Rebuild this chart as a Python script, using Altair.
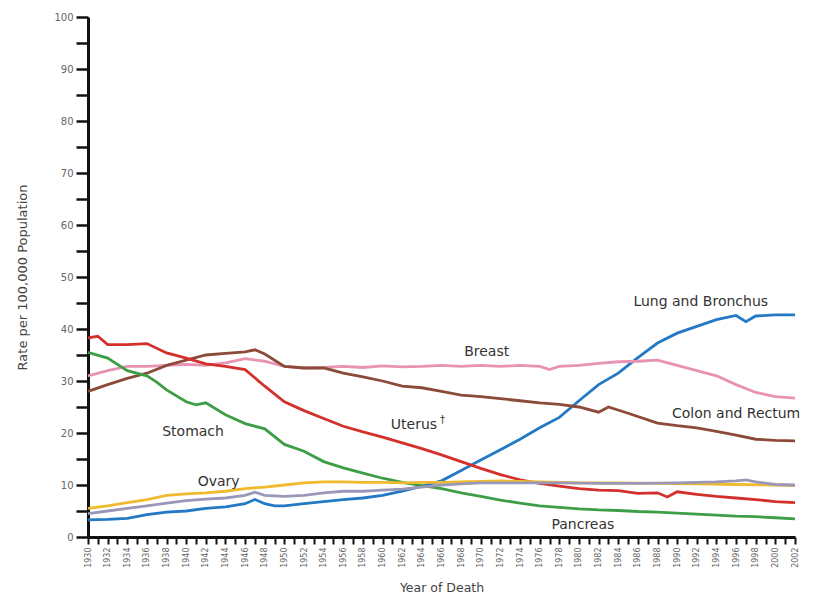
import altair as alt
import pandas as pd

# Female cancer death rates per 100,000, by site, 1930-2002 (year, rate) pairs
lung = [(1930, 3.3), (1932, 3.4), (1934, 3.6), (1936, 4.3), (1938, 4.8), (1940, 5.0),
        (1942, 5.5), (1944, 5.8), (1946, 6.4), (1947, 7.2), (1948, 6.4), (1949, 6.0),
        (1950, 6.0), (1952, 6.4), (1954, 6.8), (1956, 7.2), (1958, 7.5), (1960, 8.0),
        (1962, 8.8), (1964, 9.8), (1966, 10.8), (1968, 12.8), (1970, 14.8), (1972, 16.8),
        (1974, 18.8), (1976, 21.0), (1978, 23.0), (1980, 26.2), (1982, 29.3), (1984, 31.5),
        (1986, 34.5), (1988, 37.3), (1990, 39.2), (1992, 40.5), (1994, 41.8), (1996, 42.6),
        (1997, 41.4), (1998, 42.5), (2000, 42.7), (2002, 42.7)]

breast = [(1930, 31.0), (1932, 32.0), (1934, 32.8), (1936, 32.8), (1938, 33.0), (1940, 33.2),
          (1942, 33.0), (1944, 33.5), (1946, 34.3), (1948, 33.8), (1950, 32.8), (1952, 32.5),
          (1954, 32.6), (1956, 32.8), (1958, 32.6), (1960, 32.9), (1962, 32.7), (1964, 32.8),
          (1966, 33.0), (1968, 32.8), (1970, 33.0), (1972, 32.8), (1974, 33.0), (1976, 32.8),
          (1977, 32.2), (1978, 32.8), (1980, 33.0), (1982, 33.4), (1984, 33.7), (1986, 33.8),
          (1988, 34.0), (1990, 33.0), (1992, 32.0), (1994, 31.0), (1996, 29.3), (1998, 27.8),
          (2000, 27.0), (2002, 26.7)]

colon = [(1930, 28.0), (1932, 29.3), (1934, 30.5), (1936, 31.5), (1938, 33.0), (1940, 34.0),
         (1942, 35.0), (1944, 35.3), (1946, 35.6), (1947, 36.0), (1948, 35.2), (1950, 32.8),
         (1952, 32.5), (1954, 32.5), (1956, 31.5), (1958, 30.8), (1960, 30.0), (1962, 29.0),
         (1964, 28.7), (1966, 28.0), (1968, 27.3), (1970, 27.0), (1972, 26.6), (1974, 26.2),
         (1976, 25.8), (1978, 25.5), (1980, 25.0), (1982, 24.0), (1983, 25.0), (1985, 23.8),
         (1988, 21.9), (1990, 21.4), (1992, 21.0), (1994, 20.3), (1996, 19.6), (1998, 18.8),
         (2000, 18.6), (2002, 18.5)]

uterus = [(1930, 38.3), (1931, 38.6), (1932, 37.0), (1934, 37.0), (1936, 37.2), (1938, 35.4),
          (1940, 34.4), (1942, 33.3), (1944, 32.8), (1946, 32.2), (1948, 29.0), (1950, 26.0),
          (1952, 24.3), (1954, 22.8), (1956, 21.3), (1958, 20.2), (1960, 19.2), (1962, 18.1),
          (1964, 17.0), (1966, 15.8), (1968, 14.5), (1970, 13.2), (1972, 12.0), (1974, 11.0),
          (1976, 10.3), (1978, 9.8), (1980, 9.3), (1982, 9.0), (1984, 8.9), (1986, 8.4),
          (1988, 8.5), (1989, 7.7), (1990, 8.7), (1992, 8.2), (1994, 7.8), (1996, 7.5),
          (1998, 7.2), (2000, 6.8), (2002, 6.6)]

stomach = [(1930, 35.5), (1932, 34.4), (1934, 32.0), (1936, 31.0), (1937, 29.8), (1938, 28.3),
           (1940, 26.0), (1941, 25.4), (1942, 25.8), (1944, 23.5), (1946, 21.8), (1948, 20.8),
           (1950, 17.8), (1952, 16.5), (1954, 14.5), (1956, 13.3), (1958, 12.3), (1960, 11.3),
           (1962, 10.5), (1964, 9.9), (1966, 9.3), (1968, 8.5), (1970, 7.8), (1972, 7.1),
           (1974, 6.5), (1976, 6.0), (1978, 5.7), (1980, 5.4), (1982, 5.2), (1984, 5.1),
           (1986, 4.9), (1988, 4.8), (1990, 4.6), (1992, 4.4), (1994, 4.2), (1996, 4.0),
           (1998, 3.9), (2000, 3.7), (2002, 3.5)]

ovary = [(1930, 5.5), (1932, 6.0), (1934, 6.6), (1936, 7.2), (1938, 8.0), (1940, 8.3),
         (1942, 8.5), (1944, 8.8), (1946, 9.3), (1948, 9.6), (1950, 10.0), (1952, 10.4),
         (1954, 10.6), (1956, 10.6), (1958, 10.5), (1960, 10.5), (1962, 10.4), (1964, 10.5),
         (1966, 10.5), (1968, 10.6), (1970, 10.7), (1972, 10.8), (1974, 10.7), (1976, 10.6),
         (1978, 10.5), (1980, 10.4), (1984, 10.4), (1988, 10.3), (1992, 10.2), (1996, 10.1),
         (2000, 10.0), (2002, 9.9)]

pancreas = [(1930, 4.5), (1932, 5.0), (1934, 5.5), (1936, 6.0), (1938, 6.5), (1940, 7.0),
            (1942, 7.3), (1944, 7.5), (1946, 8.0), (1947, 8.6), (1948, 8.0), (1950, 7.8),
            (1952, 8.0), (1954, 8.5), (1956, 8.8), (1958, 8.8), (1960, 9.0), (1962, 9.2),
            (1964, 9.6), (1966, 10.0), (1968, 10.2), (1970, 10.4), (1974, 10.4), (1978, 10.4),
            (1982, 10.3), (1986, 10.3), (1990, 10.4), (1994, 10.6), (1996, 10.8), (1997, 11.0),
            (1998, 10.6), (2000, 10.1), (2002, 10.0)]

sites = ["Lung and Bronchus", "Breast", "Colon and Rectum", "Uterus", "Stomach",
         "Ovary", "Pancreas"]
series = [lung, breast, colon, uterus, stomach, ovary, pancreas]
colors = ["#2479c4", "#e892b4", "#8c4a38", "#d3302c", "#3e9e48", "#efba2e", "#9a98b8"]

# Line labels placed next to their curves
label_text = ["Lung and Bronchus", "Breast", "Colon and Rectum", "Uterus", "Stomach",
              "Ovary", "Pancreas"]
label_year = [1992.4, 1970.6, 1996.0, 1963.2, 1940.7, 1943.3, 1980.4]
label_rate = [45.2, 35.6, 23.7, 21.6, 20.2, 10.6, 2.3]
# superscript dagger after "Uterus"
dagger_text = ["\u2020"]
dagger_year = [1966.1]
dagger_rate = [22.5]

rows = []
for site, pts in zip(sites, series):
    for yr, val in pts:
        rows.append({"site": site, "year": yr, "rate": val})
df = pd.DataFrame(rows)
labels = pd.DataFrame({"text": label_text, "year": label_year, "rate": label_rate})
dagger = pd.DataFrame({"text": dagger_text, "year": dagger_year, "rate": dagger_rate})

year_ticks = list(range(1930, 2003))
rate_ticks = list(range(0, 101, 5))

x_scale = alt.Scale(domain=[1930, 2002], nice=False, zero=False)
y_scale = alt.Scale(domain=[0, 100], nice=False)

x_axis = alt.Axis(title="Year of Death", values=year_ticks, format="d",
                  labelExpr="datum.value % 2 == 0 ? datum.label : ''",
                  labelAngle=270, labelAlign="right", labelBaseline="middle",
                  labelFontSize=8, labelColor="#666666", labelPadding=3,
                  labelOverlap=False, labelFlush=False, labelBound=False,
                  tickSize=7, tickWidth=2, tickColor="#111111",
                  domainWidth=3, domainColor="#111111",
                  titleFontSize=12.5, titleFontWeight="normal",
                  titleColor="#444444", titlePadding=14, grid=False)
y_axis = alt.Axis(title="Rate per 100,000 Population", values=rate_ticks,
                  labelExpr="datum.value % 10 == 0 ? datum.label : ''",
                  labelOverlap=False,
                  labelFontSize=10, labelColor="#666666", labelPadding=3,
                  tickSize=12, tickWidth=2.5, tickColor="#111111",
                  domainWidth=3, domainColor="#111111",
                  titleFontSize=13, titleFontWeight="normal",
                  titleColor="#444444", titlePadding=24, grid=False)

x_enc = alt.X("year:Q", scale=x_scale, axis=x_axis)
y_enc = alt.Y("rate:Q", scale=y_scale, axis=y_axis)

lines = alt.Chart(df).mark_line(strokeWidth=2.8).encode(
    x=x_enc,
    y=y_enc,
    color=alt.Color("site:N", scale=alt.Scale(domain=sites, range=colors), legend=None),
    order=alt.Order("year:Q"),
)

text = alt.Chart(labels).mark_text(
    font="DejaVu Sans", fontSize=14, color="#333333", align="center", baseline="middle"
).encode(x=x_enc, y=y_enc, text="text:N")

dag = alt.Chart(dagger).mark_text(
    font="DejaVu Sans", fontSize=10, color="#333333", align="center", baseline="middle"
).encode(x=x_enc, y=y_enc, text="text:N")

chart = alt.layer(lines, text, dag).properties(
    width=707, height=520,
    autosize=alt.AutoSizeParams(type="none"),
    padding={"left": 88, "top": 17, "right": 18, "bottom": 66},
).configure(font="DejaVu Sans").configure_view(stroke=None)

chart.save("out.html", embed_options={"renderer": "svg", "actions": False})
